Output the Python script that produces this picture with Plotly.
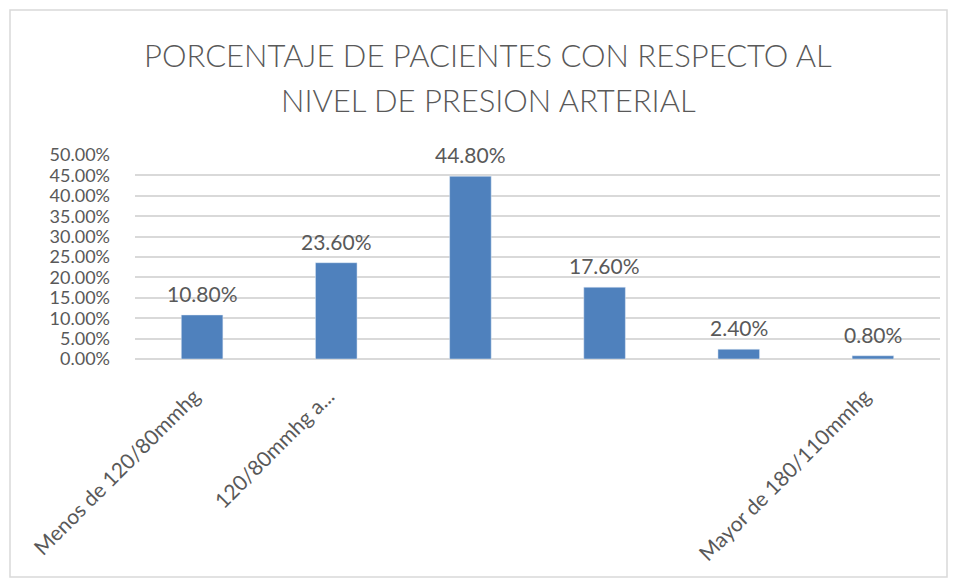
import plotly.graph_objects as go

# ── DATA ─────────────────────────────────────────────
CATEGORY_POS = [0, 1, 2, 3, 4, 5]
CATEGORY_LABELS = [
    "Menos de 120/80mmhg",
    "120/80mmhg a...",
    "",
    "",
    "",
    "Mayor de 180/110mmhg",
]
PCT_VALUES = [0.108, 0.236, 0.448, 0.176, 0.024, 0.008]
Y_TICKS = [0.0, 0.05, 0.10, 0.15, 0.20, 0.25, 0.30, 0.35, 0.40, 0.45, 0.50]

TITLE_LINES = [
    "PORCENTAJE DE PACIENTES CON RESPECTO AL",
    "NIVEL DE PRESION ARTERIAL",
]

# ── STYLE ────────────────────────────────────────────
BAR_COLOR = "#4F81BD"
TEXT_COLOR = "#595959"
GRID_COLOR = "#D9D9D9"
FONT = "Lato"

W, H = 956, 582
M_L, M_R, M_T, M_B = 135, 16, 155, 223
plot_w = W - M_L - M_R
plot_h = H - M_T - M_B


def px_x(px):
    return (px - M_L) / plot_w


def px_y(py):
    return (H - M_B - py) / plot_h


fig = go.Figure()

fig.add_trace(
    go.Bar(
        x=CATEGORY_POS,
        y=PCT_VALUES,
        marker_color=BAR_COLOR,
        showlegend=False,
        hoverinfo="skip",
    )
)

# data labels, Excel style (a bit above each bar)
for xpos, val in zip(CATEGORY_POS, PCT_VALUES):
    fig.add_annotation(
        x=xpos, y=val,
        text=f"{val * 100:.2f}%",
        showarrow=False,
        yanchor="bottom",
        yshift=7,
        font=dict(family=FONT, size=21, color=TEXT_COLOR),
    )

# two-line title
for line, ypx in zip(TITLE_LINES, [55, 100]):
    fig.add_annotation(
        xref="paper", yref="paper",
        x=px_x(488), y=px_y(ypx),
        xanchor="center", yanchor="middle",
        text=line,
        showarrow=False,
        font=dict(family=FONT, size=31, color=TEXT_COLOR, weight=300),
    )

# chart border
fig.add_shape(
    type="rect",
    xref="paper", yref="paper",
    x0=px_x(10), x1=px_x(947),
    y0=px_y(577), y1=px_y(10),
    line=dict(color="#D9D9D9", width=1.5),
    fillcolor="rgba(0,0,0,0)",
    layer="below",
)

fig.update_layout(
    width=W, height=H,
    margin=dict(l=M_L, r=M_R, t=M_T, b=M_B),
    plot_bgcolor="white",
    paper_bgcolor="white",
    bargap=0.69,
    font=dict(family=FONT, color=TEXT_COLOR),
)

fig.update_xaxes(
    range=[-0.5, 5.5],
    tickmode="array",
    tickvals=CATEGORY_POS,
    ticktext=CATEGORY_LABELS,
    tickangle=-45,
    tickfont=dict(family=FONT, size=21, color=TEXT_COLOR),
    ticklabelstandoff=20,
    ticklabelshift=-8,
    showgrid=False,
    showline=False,
    zeroline=False,
)

fig.update_yaxes(
    range=[0, 0.5],
    tickmode="array",
    tickvals=Y_TICKS,
    ticktext=[f"{v * 100:.2f}%" for v in Y_TICKS],
    tickfont=dict(family=FONT, size=18, color=TEXT_COLOR),
    ticklabelstandoff=24,
    showgrid=True,
    gridcolor=GRID_COLOR,
    gridwidth=1.5,
    zeroline=True,
    zerolinecolor=GRID_COLOR,
    zerolinewidth=1.5,
    showline=False,
)

# page body margin would shift the chart; remove it
fig.write_html(
    "out.html",
    config={"displayModeBar": False},
    post_script="document.body.style.margin='0';",
)
